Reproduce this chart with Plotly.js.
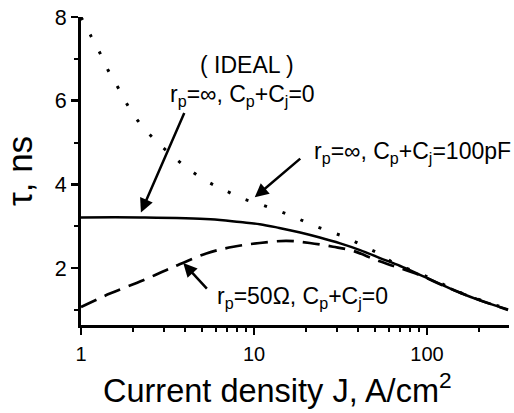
<!DOCTYPE html>
<html>
<head>
<meta charset="utf-8">
<script src="https://cdn.plot.ly/plotly-3.0.1.min.js"></script>
<style>html,body{margin:0;padding:0;background:#fff;}#chart{width:514px;height:413px;}</style>
</head>
<body>
<div id="chart"></div>
<script>
// Current density J (A/cm^2) and lifetime tau (ns)
const J_ideal = [1, 2.2, 5.6, 8.3, 10.8, 14, 18.5, 24, 31.5, 41, 53.5, 70, 91, 118, 155, 202, 294];
const tau_ideal = [3.21, 3.21, 3.17, 3.10, 3.05, 2.96, 2.85, 2.73, 2.59, 2.43, 2.24, 2.05, 1.84, 1.63, 1.41, 1.23, 1.01];

const J_cap = [1, 1.14, 1.29, 1.45, 1.66, 1.88, 2.19, 2.74, 3.42, 4.27, 5.42, 6.86, 8.6, 10.8, 13.8, 17.3, 22, 28.1, 35, 43.7, 53.7, 63, 87, 104, 130, 161, 294];
const tau_cap = [8.0, 7.55, 7.13, 6.69, 6.27, 5.86, 5.46, 5.02, 4.66, 4.34, 4.06, 3.85, 3.66, 3.53, 3.37, 3.21, 3.02, 2.86, 2.71, 2.51, 2.33, 2.14, 1.90, 1.76, 1.57, 1.39, 1.02];

const J_rp = [1, 1.47, 2.29, 3.27, 5.3, 7.6, 10.8, 15.4, 21, 28.6, 37.5, 51, 64, 90, 120, 160, 210, 294];
const tau_rp = [1.07, 1.39, 1.71, 1.99, 2.35, 2.51, 2.60, 2.65, 2.60, 2.51, 2.41, 2.19, 2.05, 1.84, 1.61, 1.39, 1.21, 1.00];

const yTicks = [2, 4, 6, 8];
const xTicks = [1, 10, 100];
const xTickText = ['1', '10', '100'];

const FONT = 'Liberation Sans, Arial, Helvetica, sans-serif';

const traces = [
  {x: J_ideal, y: tau_ideal, mode: 'lines', line: {color: '#000', width: 2.5, shape: 'spline'}, hoverinfo: 'skip'},
  {x: J_cap, y: tau_cap, mode: 'lines', line: {color: '#000', width: 3, dash: '3px,16.5px', shape: 'spline'}, hoverinfo: 'skip'},
  {x: J_rp, y: tau_rp, mode: 'lines', line: {color: '#000', width: 2.7, dash: '17px,9px', shape: 'spline'}, hoverinfo: 'skip'}
];

const lx = v => Math.log10(v);
const txt = {family: FONT, size: 23, color: '#000'};
const arrow = (x, y, ax, ay) => ({x: lx(x), y: y, xref: 'x', yref: 'y', text: '', showarrow: true,
  arrowhead: 2, arrowsize: 1.1, arrowwidth: 2.5, arrowcolor: '#000', ax: ax, ay: ay, standoff: 0});

const annotations = [
  {x: lx(9.1), y: 6.86, xref: 'x', yref: 'y', text: '( IDEAL )', showarrow: false, font: txt, xanchor: 'center', yanchor: 'middle'},
  {x: lx(3.2), y: 6.13, xref: 'x', yref: 'y', text: 'r<sub>p</sub>=∞, C<sub>p</sub>+C<sub>j</sub>=0', showarrow: false, font: txt, xanchor: 'left', yanchor: 'middle'},
  {x: lx(21.5), y: 4.76, xref: 'x', yref: 'y', text: 'r<sub>p</sub>=∞, C<sub>p</sub>+C<sub>j</sub>=100pF', showarrow: false, font: txt, xanchor: 'left', yanchor: 'middle'},
  {x: lx(5.95), y: 1.29, xref: 'x', yref: 'y', text: 'r<sub>p</sub>=50Ω, C<sub>p</sub>+C<sub>j</sub>=0', showarrow: false, font: txt, xanchor: 'left', yanchor: 'middle'},
  arrow(2.22, 3.33, 44, -101),
  arrow(10.1, 3.69, 47, -40),
  arrow(3.9, 2.12, 25, 27),
  {x: 0.459, y: -0.204, xref: 'paper', yref: 'paper', text: 'Current density J, A/cm<sup>2</sup>', showarrow: false,
   font: {family: FONT, size: 32.5, color: '#000'}, xanchor: 'center', yanchor: 'middle'}
];

const layout = {
  width: 514, height: 413,
  margin: {l: 81, r: 5, t: 16.5, b: 88},
  paper_bgcolor: '#fff', plot_bgcolor: '#fff',
  showlegend: false,
  font: {family: FONT, color: '#000'},
  xaxis: {
    type: 'log', range: [0, 2.474],
    tickvals: xTicks, ticktext: xTickText,
    ticks: 'outside', ticklen: 7, tickwidth: 2.5, tickcolor: '#000',
    minor: {ticks: 'outside', ticklen: 4, tickwidth: 2, tickcolor: '#000', tickvals: [2,3,4,5,6,7,8,9,20,30,40,50,60,70,80,90,200,300], showgrid: false},
    showline: true, linewidth: 3, linecolor: '#000',
    showgrid: false, zeroline: false,
    tickfont: {family: FONT, size: 20, color: '#000'},
    ticklabelstandoff: 2
  },
  yaxis: {
    range: [0.64, 8],
    tickvals: yTicks,
    ticks: 'outside', ticklen: 7, tickwidth: 2.5, tickcolor: '#000',
    minor: {ticks: 'outside', ticklen: 4, tickwidth: 2, tickcolor: '#000', tickvals: [1,3,5,7], showgrid: false},
    showline: true, linewidth: 3, linecolor: '#000',
    showgrid: false, zeroline: false,
    tickfont: {family: FONT, size: 21.5, color: '#000'},
    title: {text: 'τ, ns', font: {family: FONT, size: 35, color: '#000'}, standoff: 26}
  },
  annotations: annotations
};

Plotly.newPlot('chart', traces, layout, {staticPlot: true, displayModeBar: false});
</script>
</body>
</html>
